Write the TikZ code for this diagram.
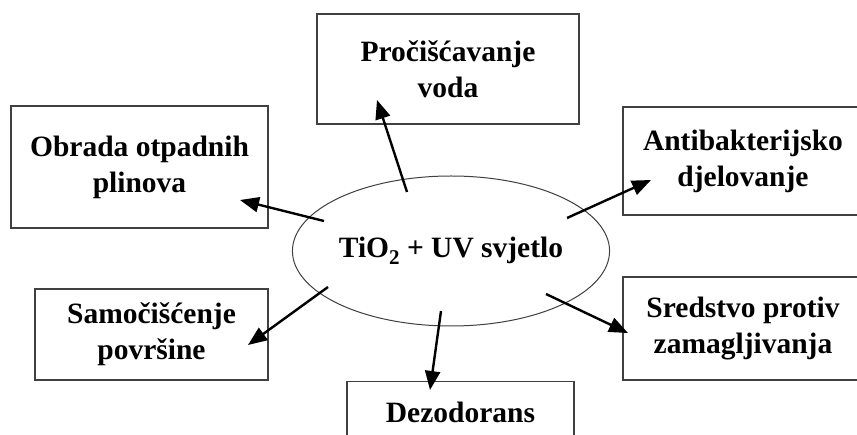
\documentclass[tikz,border=0pt]{standalone}
\usepackage{fontspec}
\setmainfont{Liberation Serif}
\usetikzlibrary{arrows.meta,shapes.geometric}
\tikzset{
  box/.style={draw=black!75, line width=1.3pt, rectangle, align=center, inner sep=0pt,
    font=\bfseries\fontsize{29.5}{36}\selectfont},
  oval/.style={draw=black!75, line width=1pt, ellipse, inner sep=0pt,
    font=\bfseries\fontsize{29.5}{36}\selectfont},
  arr/.style={line width=2.4pt, -{Triangle[length=19pt,width=15pt]}}
}
\begin{document}
\begin{tikzpicture}[x=1pt,y=-1pt]
\clip (0,0) rectangle (857,435);
\fill[white] (0,0) rectangle (857,435);
\node[oval, minimum width=308, minimum height=150] (c) at (451,251) {TiO\raisebox{-0.22em}{\fontsize{21}{21}\selectfont 2} + UV svjetlo};
\node[box, minimum width=262, minimum height=110] (proc) at (448,69) {Pročišćavanje\\voda};
\node[box, minimum width=257, minimum height=122] (obr) at (139.5,167) {Obrada otpadnih\\plinova};
\node[box, minimum width=240, minimum height=108] (anti) at (743,161) {Antibakterijsko\\djelovanje};
\node[box, minimum width=233, minimum height=91] (samo) at (151.5,334.5) {Samočišćenje\\površine};
\node[box, minimum width=240, minimum height=103] (sred) at (743,328.5) {Sredstvo protiv\\zamagljivanja};
\node[box, minimum width=227, minimum height=62, anchor=north] (dez) at (460.5,381) {Dezodorans};
% arrow start points inside the ellipse
\coordinate (s1) at (407,192);
\coordinate (s2) at (324,221);
\coordinate (s3) at (567,218);
\coordinate (s4) at (328,287);
\coordinate (s5) at (441,311);
\coordinate (s6) at (546,294);
% arrow tips inside the boxes
\coordinate (t1) at (377,100);
\coordinate (t2) at (240,200);
\coordinate (t3) at (651,180);
\coordinate (t4) at (248,345);
\coordinate (t5) at (430,390);
\coordinate (t6) at (628,333);
\draw[arr] (s1) -- (t1);
\draw[arr] (s2) -- (t2);
\draw[arr] (s3) -- (t3);
\draw[arr] (s4) -- (t4);
\draw[arr] (s5) -- (t5);
\draw[arr] (s6) -- (t6);
\end{tikzpicture}
\end{document}
